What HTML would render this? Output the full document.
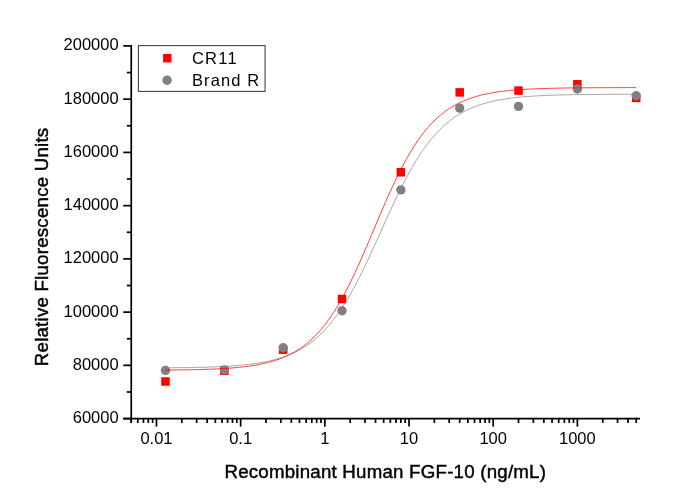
<!DOCTYPE html>
<html><head><meta charset="utf-8"><style>
html,body{margin:0;padding:0;background:#fff;width:680px;height:502px;overflow:hidden}
svg{display:block;will-change:transform}
.t{font-family:"Liberation Sans",sans-serif;font-size:16.5px;fill:#000}
.ti{font-family:"Liberation Sans",sans-serif;font-size:18.7px;letter-spacing:0.22px;fill:#000;stroke:#000;stroke-width:0.45px}
</style></head><body>
<svg width="680" height="502" viewBox="0 0 680 502">
<line x1="131.25" y1="45.07" x2="131.25" y2="423.00" stroke="#000" stroke-width="1.7"/>
<line x1="123.25" y1="418.6" x2="640" y2="418.6" stroke="#000" stroke-width="1.7"/>
<line x1="123.25" y1="418.60" x2="131.25" y2="418.60" stroke="#000" stroke-width="1.7"/>
<line x1="126.85" y1="391.98" x2="131.25" y2="391.98" stroke="#000" stroke-width="1.7"/>
<line x1="123.25" y1="365.36" x2="131.25" y2="365.36" stroke="#000" stroke-width="1.7"/>
<line x1="126.85" y1="338.74" x2="131.25" y2="338.74" stroke="#000" stroke-width="1.7"/>
<line x1="123.25" y1="312.12" x2="131.25" y2="312.12" stroke="#000" stroke-width="1.7"/>
<line x1="126.85" y1="285.50" x2="131.25" y2="285.50" stroke="#000" stroke-width="1.7"/>
<line x1="123.25" y1="258.88" x2="131.25" y2="258.88" stroke="#000" stroke-width="1.7"/>
<line x1="126.85" y1="232.26" x2="131.25" y2="232.26" stroke="#000" stroke-width="1.7"/>
<line x1="123.25" y1="205.64" x2="131.25" y2="205.64" stroke="#000" stroke-width="1.7"/>
<line x1="126.85" y1="179.02" x2="131.25" y2="179.02" stroke="#000" stroke-width="1.7"/>
<line x1="123.25" y1="152.40" x2="131.25" y2="152.40" stroke="#000" stroke-width="1.7"/>
<line x1="126.85" y1="125.78" x2="131.25" y2="125.78" stroke="#000" stroke-width="1.7"/>
<line x1="123.25" y1="99.16" x2="131.25" y2="99.16" stroke="#000" stroke-width="1.7"/>
<line x1="126.85" y1="72.54" x2="131.25" y2="72.54" stroke="#000" stroke-width="1.7"/>
<line x1="123.25" y1="45.92" x2="131.25" y2="45.92" stroke="#000" stroke-width="1.7"/>
<line x1="131.13" y1="418.6" x2="131.13" y2="423.00" stroke="#000" stroke-width="1.7"/>
<line x1="137.79" y1="418.6" x2="137.79" y2="423.00" stroke="#000" stroke-width="1.7"/>
<line x1="143.43" y1="418.6" x2="143.43" y2="423.00" stroke="#000" stroke-width="1.7"/>
<line x1="148.31" y1="418.6" x2="148.31" y2="423.00" stroke="#000" stroke-width="1.7"/>
<line x1="152.62" y1="418.6" x2="152.62" y2="423.00" stroke="#000" stroke-width="1.7"/>
<line x1="156.47" y1="418.6" x2="156.47" y2="426.60" stroke="#000" stroke-width="1.7"/>
<line x1="181.81" y1="418.6" x2="181.81" y2="423.00" stroke="#000" stroke-width="1.7"/>
<line x1="196.63" y1="418.6" x2="196.63" y2="423.00" stroke="#000" stroke-width="1.7"/>
<line x1="207.15" y1="418.6" x2="207.15" y2="423.00" stroke="#000" stroke-width="1.7"/>
<line x1="215.31" y1="418.6" x2="215.31" y2="423.00" stroke="#000" stroke-width="1.7"/>
<line x1="221.97" y1="418.6" x2="221.97" y2="423.00" stroke="#000" stroke-width="1.7"/>
<line x1="227.61" y1="418.6" x2="227.61" y2="423.00" stroke="#000" stroke-width="1.7"/>
<line x1="232.49" y1="418.6" x2="232.49" y2="423.00" stroke="#000" stroke-width="1.7"/>
<line x1="236.80" y1="418.6" x2="236.80" y2="423.00" stroke="#000" stroke-width="1.7"/>
<line x1="240.65" y1="418.6" x2="240.65" y2="426.60" stroke="#000" stroke-width="1.7"/>
<line x1="265.99" y1="418.6" x2="265.99" y2="423.00" stroke="#000" stroke-width="1.7"/>
<line x1="280.81" y1="418.6" x2="280.81" y2="423.00" stroke="#000" stroke-width="1.7"/>
<line x1="291.33" y1="418.6" x2="291.33" y2="423.00" stroke="#000" stroke-width="1.7"/>
<line x1="299.49" y1="418.6" x2="299.49" y2="423.00" stroke="#000" stroke-width="1.7"/>
<line x1="306.15" y1="418.6" x2="306.15" y2="423.00" stroke="#000" stroke-width="1.7"/>
<line x1="311.79" y1="418.6" x2="311.79" y2="423.00" stroke="#000" stroke-width="1.7"/>
<line x1="316.67" y1="418.6" x2="316.67" y2="423.00" stroke="#000" stroke-width="1.7"/>
<line x1="320.98" y1="418.6" x2="320.98" y2="423.00" stroke="#000" stroke-width="1.7"/>
<line x1="324.83" y1="418.6" x2="324.83" y2="426.60" stroke="#000" stroke-width="1.7"/>
<line x1="350.17" y1="418.6" x2="350.17" y2="423.00" stroke="#000" stroke-width="1.7"/>
<line x1="364.99" y1="418.6" x2="364.99" y2="423.00" stroke="#000" stroke-width="1.7"/>
<line x1="375.51" y1="418.6" x2="375.51" y2="423.00" stroke="#000" stroke-width="1.7"/>
<line x1="383.67" y1="418.6" x2="383.67" y2="423.00" stroke="#000" stroke-width="1.7"/>
<line x1="390.33" y1="418.6" x2="390.33" y2="423.00" stroke="#000" stroke-width="1.7"/>
<line x1="395.97" y1="418.6" x2="395.97" y2="423.00" stroke="#000" stroke-width="1.7"/>
<line x1="400.85" y1="418.6" x2="400.85" y2="423.00" stroke="#000" stroke-width="1.7"/>
<line x1="405.16" y1="418.6" x2="405.16" y2="423.00" stroke="#000" stroke-width="1.7"/>
<line x1="409.01" y1="418.6" x2="409.01" y2="426.60" stroke="#000" stroke-width="1.7"/>
<line x1="434.35" y1="418.6" x2="434.35" y2="423.00" stroke="#000" stroke-width="1.7"/>
<line x1="449.17" y1="418.6" x2="449.17" y2="423.00" stroke="#000" stroke-width="1.7"/>
<line x1="459.69" y1="418.6" x2="459.69" y2="423.00" stroke="#000" stroke-width="1.7"/>
<line x1="467.85" y1="418.6" x2="467.85" y2="423.00" stroke="#000" stroke-width="1.7"/>
<line x1="474.51" y1="418.6" x2="474.51" y2="423.00" stroke="#000" stroke-width="1.7"/>
<line x1="480.15" y1="418.6" x2="480.15" y2="423.00" stroke="#000" stroke-width="1.7"/>
<line x1="485.03" y1="418.6" x2="485.03" y2="423.00" stroke="#000" stroke-width="1.7"/>
<line x1="489.34" y1="418.6" x2="489.34" y2="423.00" stroke="#000" stroke-width="1.7"/>
<line x1="493.19" y1="418.6" x2="493.19" y2="426.60" stroke="#000" stroke-width="1.7"/>
<line x1="518.53" y1="418.6" x2="518.53" y2="423.00" stroke="#000" stroke-width="1.7"/>
<line x1="533.35" y1="418.6" x2="533.35" y2="423.00" stroke="#000" stroke-width="1.7"/>
<line x1="543.87" y1="418.6" x2="543.87" y2="423.00" stroke="#000" stroke-width="1.7"/>
<line x1="552.03" y1="418.6" x2="552.03" y2="423.00" stroke="#000" stroke-width="1.7"/>
<line x1="558.69" y1="418.6" x2="558.69" y2="423.00" stroke="#000" stroke-width="1.7"/>
<line x1="564.33" y1="418.6" x2="564.33" y2="423.00" stroke="#000" stroke-width="1.7"/>
<line x1="569.21" y1="418.6" x2="569.21" y2="423.00" stroke="#000" stroke-width="1.7"/>
<line x1="573.52" y1="418.6" x2="573.52" y2="423.00" stroke="#000" stroke-width="1.7"/>
<line x1="577.37" y1="418.6" x2="577.37" y2="426.60" stroke="#000" stroke-width="1.7"/>
<line x1="602.71" y1="418.6" x2="602.71" y2="423.00" stroke="#000" stroke-width="1.7"/>
<line x1="617.53" y1="418.6" x2="617.53" y2="423.00" stroke="#000" stroke-width="1.7"/>
<line x1="628.05" y1="418.6" x2="628.05" y2="423.00" stroke="#000" stroke-width="1.7"/>
<line x1="636.21" y1="418.6" x2="636.21" y2="423.00" stroke="#000" stroke-width="1.7"/>
<text x="118.6" y="423.00" text-anchor="end" class="t">60000</text>
<text x="118.6" y="369.76" text-anchor="end" class="t">80000</text>
<text x="118.6" y="316.52" text-anchor="end" class="t">100000</text>
<text x="118.6" y="263.28" text-anchor="end" class="t">120000</text>
<text x="118.6" y="210.04" text-anchor="end" class="t">140000</text>
<text x="118.6" y="156.80" text-anchor="end" class="t">160000</text>
<text x="118.6" y="103.56" text-anchor="end" class="t">180000</text>
<text x="118.6" y="50.32" text-anchor="end" class="t">200000</text>
<text x="156.47" y="444.2" text-anchor="middle" class="t">0.01</text>
<text x="240.65" y="444.2" text-anchor="middle" class="t">0.1</text>
<text x="324.83" y="444.2" text-anchor="middle" class="t">1</text>
<text x="409.01" y="444.2" text-anchor="middle" class="t">10</text>
<text x="493.19" y="444.2" text-anchor="middle" class="t">100</text>
<text x="577.37" y="444.2" text-anchor="middle" class="t">1000</text>
<rect x="161.24" y="377.25" width="8.5" height="8.5" fill="#ff0000"/>
<rect x="220.08" y="366.45" width="8.5" height="8.5" fill="#ff0000"/>
<rect x="278.92" y="345.45" width="8.5" height="8.5" fill="#ff0000"/>
<rect x="337.76" y="294.75" width="8.5" height="8.5" fill="#ff0000"/>
<rect x="396.60" y="168.05" width="8.5" height="8.5" fill="#ff0000"/>
<rect x="455.44" y="88.15" width="8.5" height="8.5" fill="#ff0000"/>
<rect x="514.28" y="86.35" width="8.5" height="8.5" fill="#ff0000"/>
<rect x="573.12" y="80.05" width="8.5" height="8.5" fill="#ff0000"/>
<rect x="631.96" y="93.65" width="8.5" height="8.5" fill="#ff0000"/>
<circle cx="165.49" cy="370.40" r="4.7" fill="#808080"/>
<circle cx="224.33" cy="370.00" r="4.7" fill="#808080"/>
<circle cx="283.17" cy="347.80" r="4.7" fill="#808080"/>
<circle cx="342.01" cy="310.70" r="4.7" fill="#808080"/>
<circle cx="400.85" cy="189.90" r="4.7" fill="#808080"/>
<circle cx="459.69" cy="108.10" r="4.7" fill="#808080"/>
<circle cx="518.53" cy="106.40" r="4.7" fill="#808080"/>
<circle cx="577.37" cy="89.00" r="4.7" fill="#808080"/>
<circle cx="636.21" cy="95.80" r="4.7" fill="#808080"/>
<path d="M165.49,367.83 L167.86,367.81 L170.23,367.78 L172.59,367.76 L174.96,367.74 L177.32,367.71 L179.69,367.68 L182.05,367.65 L184.42,367.61 L186.78,367.58 L189.15,367.54 L191.51,367.49 L193.88,367.45 L196.25,367.40 L198.61,367.34 L200.98,367.28 L203.34,367.22 L205.71,367.15 L208.07,367.08 L210.44,367.00 L212.80,366.91 L215.17,366.82 L217.53,366.72 L219.90,366.61 L222.26,366.50 L224.63,366.37 L227.00,366.23 L229.36,366.09 L231.73,365.93 L234.09,365.76 L236.46,365.58 L238.82,365.38 L241.19,365.17 L243.55,364.94 L245.92,364.69 L248.28,364.43 L250.65,364.14 L253.01,363.83 L255.38,363.50 L257.75,363.14 L260.11,362.75 L262.48,362.34 L264.84,361.89 L267.21,361.41 L269.57,360.89 L271.94,360.33 L274.30,359.74 L276.67,359.09 L279.03,358.40 L281.40,357.66 L283.76,356.86 L286.13,356.01 L288.50,355.09 L290.86,354.11 L293.23,353.06 L295.59,351.93 L297.96,350.73 L300.32,349.44 L302.69,348.06 L305.05,346.59 L307.42,345.02 L309.78,343.35 L312.15,341.57 L314.52,339.67 L316.88,337.66 L319.25,335.52 L321.61,333.26 L323.98,330.86 L326.34,328.32 L328.71,325.65 L331.07,322.82 L333.44,319.85 L335.80,316.73 L338.17,313.45 L340.53,310.02 L342.90,306.43 L345.27,302.69 L347.63,298.80 L350.00,294.75 L352.36,290.56 L354.73,286.23 L357.09,281.76 L359.46,277.16 L361.82,272.44 L364.19,267.62 L366.55,262.69 L368.92,257.68 L371.28,252.59 L373.65,247.43 L376.02,242.24 L378.38,237.00 L380.75,231.76 L383.11,226.50 L385.48,221.27 L387.84,216.06 L390.21,210.90 L392.57,205.79 L394.94,200.75 L397.30,195.81 L399.67,190.95 L402.03,186.21 L404.40,181.58 L406.77,177.08 L409.13,172.71 L411.50,168.49 L413.86,164.41 L416.23,160.48 L418.59,156.70 L420.96,153.07 L423.32,149.61 L425.69,146.29 L428.05,143.13 L430.42,140.12 L432.78,137.26 L435.15,134.55 L437.52,131.98 L439.88,129.55 L442.25,127.25 L444.61,125.08 L446.98,123.04 L449.34,121.12 L451.71,119.31 L454.07,117.61 L456.44,116.02 L458.80,114.53 L461.17,113.13 L463.54,111.82 L465.90,110.59 L468.27,109.44 L470.63,108.37 L473.00,107.38 L475.36,106.44 L477.73,105.57 L480.09,104.76 L482.46,104.01 L484.82,103.31 L487.19,102.65 L489.55,102.04 L491.92,101.48 L494.29,100.95 L496.65,100.46 L499.02,100.00 L501.38,99.58 L503.75,99.19 L506.11,98.82 L508.48,98.48 L510.84,98.17 L513.21,97.88 L515.57,97.61 L517.94,97.36 L520.30,97.12 L522.67,96.91 L525.04,96.70 L527.40,96.52 L529.77,96.35 L532.13,96.19 L534.50,96.04 L536.86,95.90 L539.23,95.77 L541.59,95.65 L543.96,95.54 L546.32,95.44 L548.69,95.35 L551.05,95.26 L553.42,95.18 L555.79,95.10 L558.15,95.03 L560.52,94.97 L562.88,94.91 L565.25,94.85 L567.61,94.80 L569.98,94.76 L572.34,94.71 L574.71,94.67 L577.07,94.63 L579.44,94.60 L581.81,94.57 L584.17,94.54 L586.54,94.51 L588.90,94.48 L591.27,94.46 L593.63,94.44 L596.00,94.42 L598.36,94.40 L600.73,94.38 L603.09,94.36 L605.46,94.35 L607.82,94.33 L610.19,94.32 L612.56,94.31 L614.92,94.30 L617.29,94.29 L619.65,94.28 L622.02,94.27 L624.38,94.26 L626.75,94.25 L629.11,94.25 L631.48,94.24 L633.84,94.23 L636.21,94.23" fill="none" stroke="#808080" stroke-opacity="0.7" stroke-width="1.0"/>
<path d="M165.49,370.08 L167.86,370.06 L170.23,370.04 L172.59,370.01 L174.96,369.99 L177.32,369.96 L179.69,369.93 L182.05,369.89 L184.42,369.86 L186.78,369.81 L189.15,369.77 L191.51,369.72 L193.88,369.67 L196.25,369.62 L198.61,369.56 L200.98,369.49 L203.34,369.42 L205.71,369.35 L208.07,369.27 L210.44,369.18 L212.80,369.08 L215.17,368.98 L217.53,368.87 L219.90,368.74 L222.26,368.61 L224.63,368.47 L227.00,368.32 L229.36,368.15 L231.73,367.97 L234.09,367.78 L236.46,367.57 L238.82,367.34 L241.19,367.10 L243.55,366.83 L245.92,366.55 L248.28,366.24 L250.65,365.90 L253.01,365.54 L255.38,365.16 L257.75,364.74 L260.11,364.28 L262.48,363.79 L264.84,363.27 L267.21,362.70 L269.57,362.09 L271.94,361.43 L274.30,360.71 L276.67,359.95 L279.03,359.13 L281.40,358.24 L283.76,357.29 L286.13,356.26 L288.50,355.16 L290.86,353.98 L293.23,352.72 L295.59,351.36 L297.96,349.91 L300.32,348.35 L302.69,346.69 L305.05,344.91 L307.42,343.02 L309.78,340.99 L312.15,338.84 L314.52,336.55 L316.88,334.12 L319.25,331.54 L321.61,328.81 L323.98,325.92 L326.34,322.87 L328.71,319.66 L331.07,316.27 L333.44,312.72 L335.80,309.00 L338.17,305.10 L340.53,301.04 L342.90,296.80 L345.27,292.41 L347.63,287.85 L350.00,283.14 L352.36,278.29 L354.73,273.30 L357.09,268.18 L359.46,262.96 L361.82,257.63 L364.19,252.21 L366.55,246.72 L368.92,241.18 L371.28,235.60 L373.65,230.00 L376.02,224.39 L378.38,218.80 L380.75,213.25 L383.11,207.74 L385.48,202.29 L387.84,196.93 L390.21,191.66 L392.57,186.50 L394.94,181.46 L397.30,176.56 L399.67,171.79 L402.03,167.18 L404.40,162.72 L406.77,158.43 L409.13,154.30 L411.50,150.34 L413.86,146.55 L416.23,142.94 L418.59,139.49 L420.96,136.21 L423.32,133.10 L425.69,130.15 L428.05,127.36 L430.42,124.72 L432.78,122.24 L435.15,119.90 L437.52,117.69 L439.88,115.62 L442.25,113.68 L444.61,111.86 L446.98,110.16 L449.34,108.56 L451.71,107.07 L454.07,105.68 L456.44,104.38 L458.80,103.17 L461.17,102.04 L463.54,100.99 L465.90,100.01 L468.27,99.10 L470.63,98.25 L473.00,97.46 L475.36,96.73 L477.73,96.05 L480.09,95.42 L482.46,94.84 L484.82,94.30 L487.19,93.79 L489.55,93.33 L491.92,92.90 L494.29,92.50 L496.65,92.12 L499.02,91.78 L501.38,91.46 L503.75,91.17 L506.11,90.90 L508.48,90.64 L510.84,90.41 L513.21,90.20 L515.57,90.00 L517.94,89.81 L520.30,89.64 L522.67,89.48 L525.04,89.34 L527.40,89.20 L529.77,89.08 L532.13,88.96 L534.50,88.85 L536.86,88.75 L539.23,88.66 L541.59,88.58 L543.96,88.50 L546.32,88.43 L548.69,88.36 L551.05,88.30 L553.42,88.24 L555.79,88.19 L558.15,88.14 L560.52,88.10 L562.88,88.06 L565.25,88.02 L567.61,87.98 L569.98,87.95 L572.34,87.92 L574.71,87.89 L577.07,87.87 L579.44,87.84 L581.81,87.82 L584.17,87.80 L586.54,87.78 L588.90,87.76 L591.27,87.75 L593.63,87.73 L596.00,87.72 L598.36,87.71 L600.73,87.69 L603.09,87.68 L605.46,87.67 L607.82,87.66 L610.19,87.66 L612.56,87.65 L614.92,87.64 L617.29,87.63 L619.65,87.63 L622.02,87.62 L624.38,87.62 L626.75,87.61 L629.11,87.61 L631.48,87.60 L633.84,87.60 L636.21,87.60" fill="none" stroke="#ff0000" stroke-opacity="0.75" stroke-width="1.0"/>
<rect x="138.4" y="45.6" width="126.7" height="45.8" fill="none" stroke="#444" stroke-width="1.1"/>
<rect x="163.1" y="54.0" width="8.4" height="8.4" fill="#ff0000"/>
<circle cx="167.1" cy="80.3" r="4.7" fill="#808080"/>
<text x="192" y="64.0" class="t" style="letter-spacing:1.2px">CR11</text>
<text x="192" y="85.7" class="t" style="letter-spacing:1.1px">Brand R</text>
<text x="385.3" y="477.7" text-anchor="middle" class="ti">Recombinant Human FGF-10 (ng/mL)</text>
<text transform="translate(48,246.9) rotate(-90)" text-anchor="middle" class="ti">Relative Fluorescence Units</text>
</svg></body></html>
